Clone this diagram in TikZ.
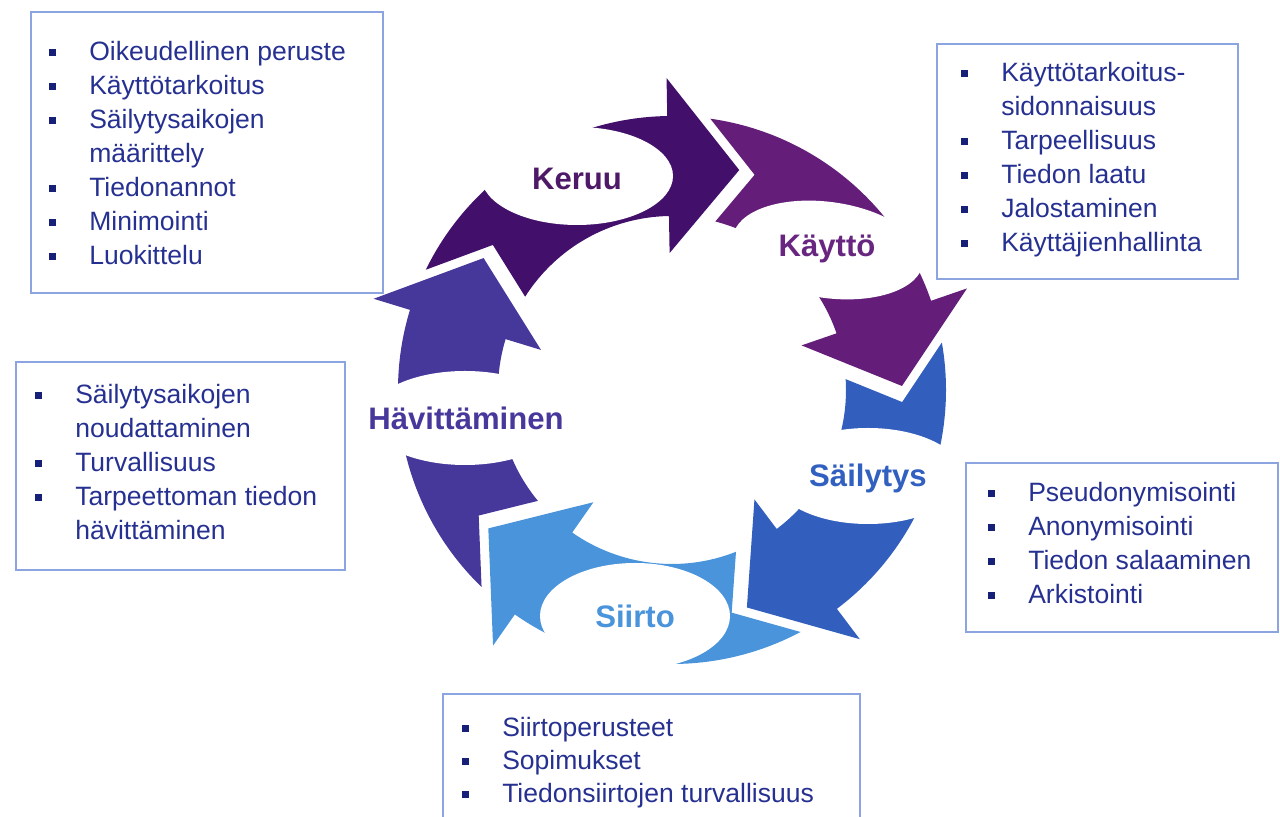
\documentclass[tikz,border=0pt]{standalone}
\usepackage{fontspec}
\setmainfont{Liberation Sans}
\definecolor{cKer}{RGB}{66,16,107}
\definecolor{cKay}{RGB}{100,30,122}
\definecolor{cSai}{RGB}{50,95,190}
\definecolor{cSii}{RGB}{74,148,220}
\definecolor{cHav}{RGB}{70,55,155}
\definecolor{tKer}{RGB}{78,26,104}
\definecolor{tKay}{RGB}{104,38,128}
\definecolor{tSai}{RGB}{50,96,192}
\definecolor{tSii}{RGB}{74,148,220}
\definecolor{tHav}{RGB}{72,56,156}
\definecolor{boxc}{RGB}{140,165,225}
\definecolor{txtc}{RGB}{38,48,145}
\definecolor{bulc}{RGB}{22,32,120}
\newcommand\bl{\makebox[23pt][l]{\textcolor{bulc}{\rule[3.1pt]{4pt}{4pt}}}}
\newcommand\bc{\hspace*{23pt}}
\newcommand\cyclearrow[2]{%
  \begin{scope}[shift={(672,427)},rotate=#1]
    \fill[#2] (153.97:274) -- (141.0:230.5) -- (147.58:174)
      arc[start angle=147.58,end angle=91,radius=174]
      -- (91:137) -- (73:230) -- (91:312) -- (91:274)
      arc[start angle=91,end angle=153.97,radius=274] -- cycle;
  \end{scope}}
\begin{document}
\begin{tikzpicture}[x=0.02cm,y=0.02cm,
  itm/.style={anchor=base west,inner sep=0pt,text=txtc,font=\fontsize{15.1}{18}\selectfont},
  lbl/.style={anchor=base,inner sep=0pt,font=\bfseries\fontsize{17.7}{20}\selectfont},
  boxline/.style={draw=boxc,line width=1pt}]
\useasboundingbox (0,0) rectangle (1280,817);
\clip (0,0) rectangle (1280,817);
% cycle arrows
\cyclearrow{0}{cKer}
\cyclearrow{-72}{cKay}
\cyclearrow{-144}{cSai}
\cyclearrow{-216}{cSii}
\cyclearrow{-288}{cHav}
% label cut-outs
\fill[white] (577,641) ellipse[x radius=96,y radius=49];
\fill[white,rotate around={-8:(828,567)}] (828,567) ellipse[x radius=96,y radius=48];
\fill[white] (868,341) ellipse[x radius=95,y radius=48];
\fill[white] (635,201) ellipse[x radius=95,y radius=53];
\fill[white] (465,399) ellipse[x radius=97,y radius=47];
% labels
\node[lbl,text=tKer] (keruu) at (577,627) {Keruu};
\node[lbl,text=tKay] (kaytto) at (827,560) {Käyttö};
\node[lbl,text=tSai] (sailytys) at (868,330) {Säilytys};
\node[lbl,text=tSii] (siirto) at (635,189) {Siirto};
\node[lbl,text=tHav] (havittaminen) at (466,387) {Hävittäminen};
% boxes
\draw[boxline] (31,524) rectangle (383,805);
\draw[boxline] (937,538) rectangle (1238,773);
\draw[boxline] (966,185) rectangle (1278,354);
\draw[boxline] (16,247) rectangle (345,455);
\draw[boxline] (443,-13) rectangle (860,123);
% box 1
\node[itm] (a1) at (48.5,756) {\bl Oikeudellinen peruste};
\node[itm] (a2) at (48.5,722) {\bl Käyttötarkoitus};
\node[itm] (a3) at (48.5,688) {\bl Säilytysaikojen};
\node[itm] (a4) at (48.5,654) {\bc määrittely};
\node[itm] (a5) at (48.5,620) {\bl Tiedonannot};
\node[itm] (a6) at (48.5,586) {\bl Minimointi};
\node[itm] (a7) at (48.5,552) {\bl Luokittelu};
% box 2
\node[itm] (b1) at (960.5,735) {\bl Käyttötarkoitus-};
\node[itm] (b2) at (960.5,701) {\bc sidonnaisuus};
\node[itm] (b3) at (960.5,667) {\bl Tarpeellisuus};
\node[itm] (b4) at (960.5,633) {\bl Tiedon laatu};
\node[itm] (b5) at (960.5,599) {\bl Jalostaminen};
\node[itm] (b6) at (960.5,565) {\bl Käyttäjienhallinta};
% box 3
\node[itm] (c1) at (987.5,315) {\bl Pseudonymisointi};
\node[itm] (c2) at (987.5,281) {\bl Anonymisointi};
\node[itm] (c3) at (987.5,247) {\bl Tiedon salaaminen};
\node[itm] (c4) at (987.5,213) {\bl Arkistointi};
% box 4
\node[itm] (d1) at (34.5,413) {\bl Säilytysaikojen};
\node[itm] (d2) at (34.5,379) {\bc noudattaminen};
\node[itm] (d3) at (34.5,345) {\bl Turvallisuus};
\node[itm] (d4) at (34.5,311) {\bl Tarpeettoman tiedon};
\node[itm] (d5) at (34.5,277) {\bc hävittäminen};
% box 5
\node[itm] (e1) at (461.5,80) {\bl Siirtoperusteet};
\node[itm] (e2) at (461.5,47) {\bl Sopimukset};
\node[itm] (e3) at (461.5,14) {\bl Tiedonsiirtojen turvallisuus};
\end{tikzpicture}
\end{document}
